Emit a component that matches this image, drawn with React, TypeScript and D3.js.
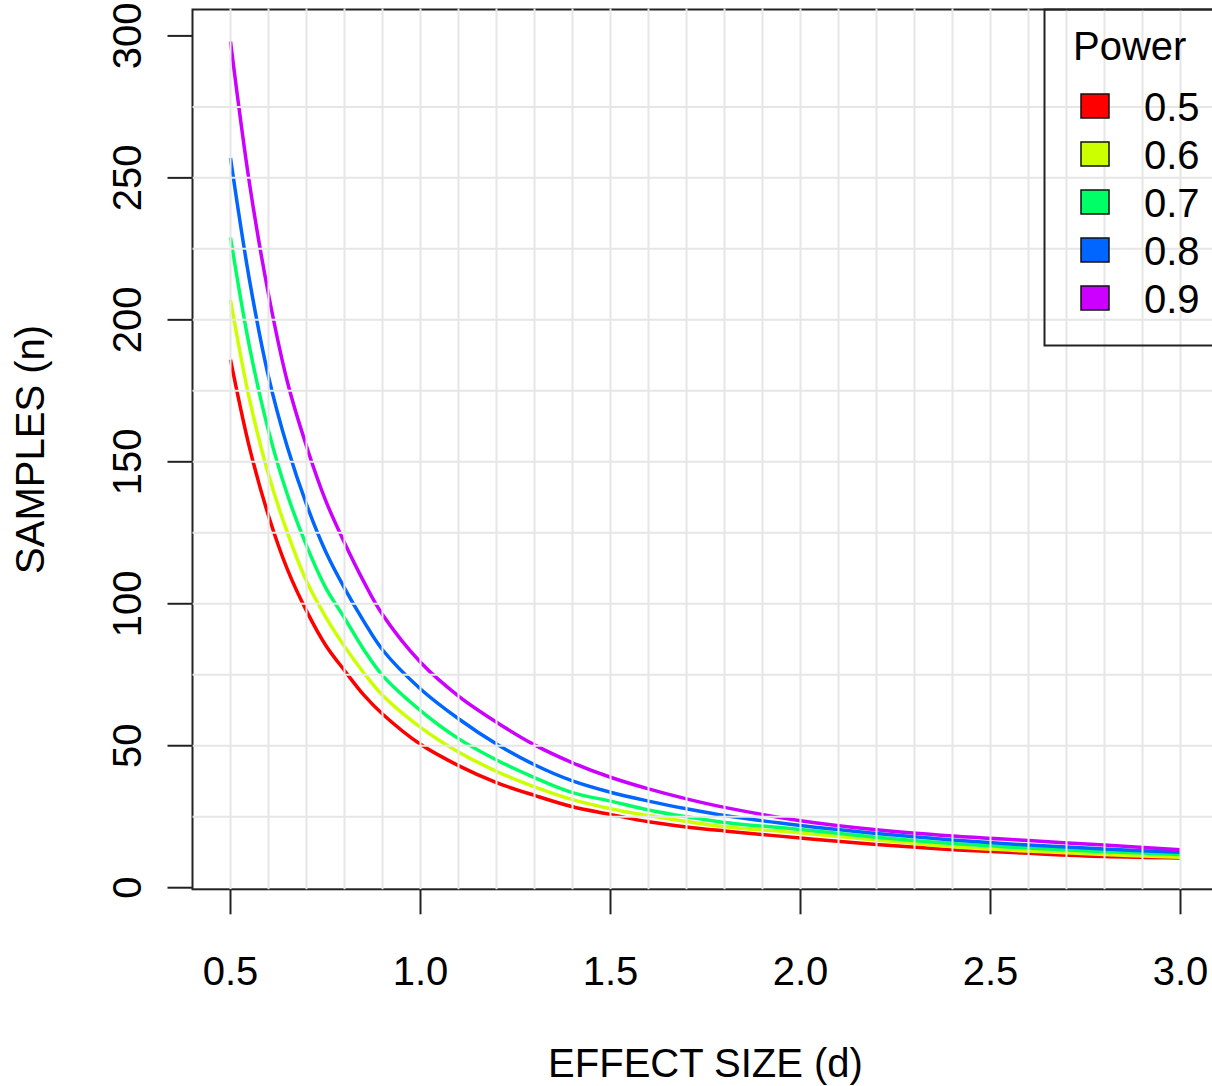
import * as d3 from "d3";

// effect size grid the curves were read at
const effectSizes = [
  0.5, 0.55, 0.6, 0.65, 0.7, 0.75, 0.8, 0.85, 0.9, 1.0, 1.1, 1.2, 1.3, 1.4,
  1.5, 1.6, 1.7, 1.8, 2.0, 2.2, 2.4, 2.6, 2.8, 3.0,
];

const powerLevels = ["0.5", "0.6", "0.7", "0.8", "0.9"];
const powerColors = ["#FF0000", "#CCFF00", "#00FF66", "#0066FF", "#CC00FF"];

const samplesP05 = [
  186, 155, 131, 112, 97.5, 85.5, 76.5, 68, 61.2, 50.5, 43, 37, 32.5, 28.5,
  25.8, 23.2, 21.4, 20, 17.5, 15.2, 13.4, 12.1, 11, 10.5,
];
const samplesP06 = [
  207, 172, 145.5, 125, 108, 95.5, 85, 75.8, 67.8, 56.5, 47.8, 41, 35.5, 31,
  27.8, 25.4, 23.3, 21.5, 19.3, 16.8, 14.4, 12.9, 11.7, 10.7,
];
const samplesP07 = [
  229, 190.5, 161, 138.3, 120.5, 105.8, 95, 84, 74.8, 62.4, 52.5, 45, 38.8,
  33.5, 30.5, 27.4, 25, 23, 20.5, 17.8, 15.6, 14, 12.7, 11.7,
];
const samplesP08 = [
  257, 214, 180, 155, 135, 118.5, 105.5, 94, 83.8, 70, 59.5, 50.6, 43.3, 37.6,
  33.6, 30.5, 27.8, 25.4, 21.9, 19.1, 16.8, 15, 13.6, 12.5,
];
const samplesP09 = [
  298, 248, 209, 178, 155.5, 136.5, 121.5, 108, 96.2, 79.4, 67.5, 58.3, 50.3,
  44, 38.9, 34.8, 31.3, 28.3, 23.6, 20.4, 18.2, 16.6, 15, 13.4,
];

const xTicks = [0.5, 1.0, 1.5, 2.0, 2.5, 3.0];
const yTicks = [0, 50, 100, 150, 200, 250, 300];
const xGrid = d3.range(5, 31).map((i) => i / 10);
const yGrid = [25, 50, 75, 100, 125, 150, 175, 200, 225, 250, 275];

export default function App() {
  const width = 1212;
  const height = 1086;
  const plot = { left: 192.5, right: 1218.5, top: 9.5, bottom: 889.3 };
  const font = "'Liberation Sans', Arial, Helvetica, sans-serif";
  const ink = "#222";

  const x = d3.scaleLinear().domain([0.4, 3.1]).range([plot.left, plot.right]);
  const y = d3
    .scaleLinear()
    .domain([-0.56, 309.3])
    .range([plot.bottom, plot.top]);

  const series = [samplesP05, samplesP06, samplesP07, samplesP08, samplesP09];

  const line = d3
    .line<number>()
    .x((_, i) => x(effectSizes[i]))
    .y((d) => y(d))
    .curve(d3.curveCatmullRom.alpha(0.5));

  const legend = { left: 1044.5, bottom: 345.5 };

  return (
    <svg
      width={width}
      height={height}
      style={{ position: "absolute", left: 0, top: 0, background: "#fff" }}
      fontFamily={font}
    >
      {/* plot box */}
      <rect
        x={plot.left}
        y={plot.top}
        width={plot.right - plot.left}
        height={plot.bottom - plot.top}
        fill="none"
        stroke={ink}
        strokeWidth={2}
      />

      {/* curves */}
      {series.map((s, i) => (
        <path
          key={powerLevels[i]}
          d={line(s) ?? ""}
          fill="none"
          stroke={powerColors[i]}
          strokeWidth={3.5}
        />
      ))}

      {/* grid drawn last, over the curves */}
      {xGrid.map((v) => (
        <line
          key={"gx" + v}
          x1={x(v)}
          x2={x(v)}
          y1={plot.top - 1}
          y2={plot.bottom}
          stroke="#e6e6e6"
          strokeWidth={2}
        />
      ))}
      {yGrid.map((v) => (
        <line
          key={"gy" + v}
          x1={plot.left}
          x2={plot.right}
          y1={y(v)}
          y2={y(v)}
          stroke="#e6e6e6"
          strokeWidth={2}
        />
      ))}

      {/* x axis */}
      {xTicks.map((v) => (
        <g key={"xt" + v} transform={`translate(${x(v)},0)`}>
          <line y1={plot.bottom} y2={plot.bottom + 25} stroke={ink} strokeWidth={2} />
          <text y={985} textAnchor="middle" fontSize={40} fill="#000">
            {v.toFixed(1)}
          </text>
        </g>
      ))}
      <text x={(plot.left + plot.right) / 2} y={1077} textAnchor="middle" fontSize={40}>
        EFFECT SIZE (d)
      </text>

      {/* y axis */}
      {yTicks.map((v) => (
        <g key={"yt" + v} transform={`translate(0,${y(v)})`}>
          <line x1={plot.left - 25} x2={plot.left} stroke={ink} strokeWidth={2} />
          <text
            transform="translate(141,0) rotate(-90)"
            textAnchor="middle"
            fontSize={40}
          >
            {v}
          </text>
        </g>
      ))}
      <text
        transform={`translate(44,${(plot.top + plot.bottom) / 2}) rotate(-90)`}
        textAnchor="middle"
        fontSize={40}
      >
        SAMPLES (n)
      </text>

      {/* legend */}
      <rect
        x={legend.left}
        y={plot.top}
        width={plot.right - legend.left + 10}
        height={legend.bottom - plot.top}
        fill="none"
        stroke={ink}
        strokeWidth={2}
      />
      <text x={1073} y={60} fontSize={40}>
        Power
      </text>
      {powerLevels.map((p, i) => (
        <g key={"lg" + p} transform={`translate(0,${121 + i * 48})`}>
          <rect
            x={1081}
            y={-27}
            width={28}
            height={24}
            fill={powerColors[i]}
            stroke="#111"
            strokeWidth={1.5}
          />
          <text x={1144} y={0} fontSize={40}>
            {p}
          </text>
        </g>
      ))}
    </svg>
  );
}
